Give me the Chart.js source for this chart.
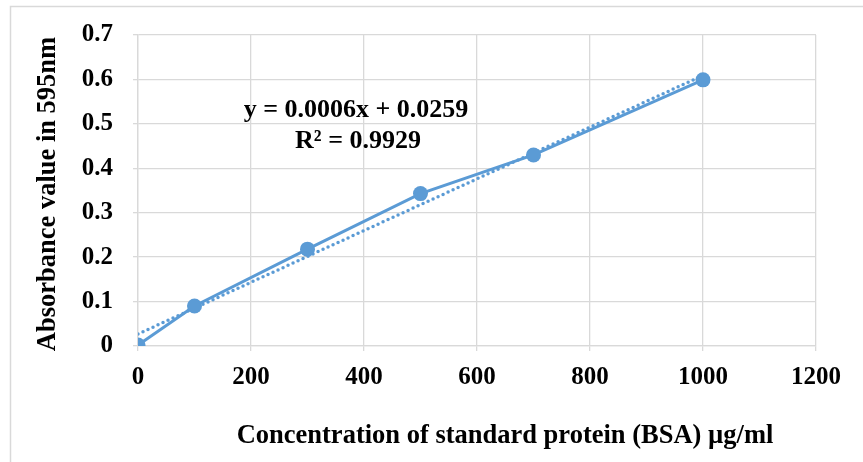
<!DOCTYPE html>
<html>
<head>
<meta charset="utf-8">
<script src="https://cdn.jsdelivr.net/npm/chart.js@4/dist/chart.umd.min.js"></script>
<style>
  body { margin: 0; background: #fff; }
</style>
</head>
<body>
<canvas id="grafico" width="863" height="462"></canvas>
<script>
// Data
const concentracoes = [0, 100, 300, 500, 700, 1000];
const absorbancias = [0.002, 0.09, 0.218, 0.343, 0.43, 0.599];
// dotted trendline end points (as drawn)
const linhaX = [0, 1000];
const linhaY = [0.027, 0.609];
const xTicks = [0, 200, 400, 600, 800, 1000, 1200];
const yTicks = [0, 0.1, 0.2, 0.3, 0.4, 0.5, 0.6, 0.7];
const equacao = ["y = 0.0006x + 0.0259", "R² = 0.9929"];
const tituloX = "Concentration of standard protein (BSA) µg/ml";
const tituloY = "Absorbance value in 595nm";

const azul = "#5b9bd5";
const grade = "#d9d9d9";
const fonte = "'Liberation Serif', 'Times New Roman', serif";

// Fundo, moldura e textos extras
const extras = {
  id: "extras",
  beforeDraw(chart) {
    const ctx = chart.ctx;
    ctx.save();
    ctx.fillStyle = "#fff";
    ctx.fillRect(0, 0, chart.width, chart.height);
    ctx.strokeStyle = grade;
    ctx.lineWidth = 1.5;
    ctx.beginPath();
    ctx.moveTo(10.5, chart.height + 2);
    ctx.lineTo(10.5, 6.5);
    ctx.lineTo(chart.width + 2, 6.5);
    ctx.stroke();
    ctx.restore();
  },
  afterDraw(chart) {
    const ctx = chart.ctx;
    ctx.save();
    ctx.fillStyle = "#000";
    ctx.textAlign = "center";
    ctx.textBaseline = "middle";
    ctx.font = "bold 26px " + fonte;
    ctx.fillText(equacao[0], 356, 110);
    ctx.fillText(equacao[1], 358, 141);
    ctx.font = "bold 26.5px " + fonte;
    ctx.fillText(tituloX, 505, 436);
    ctx.translate(48, 194);
    ctx.rotate(-Math.PI / 2);
    ctx.fillText(tituloY, 0, 0);
    ctx.restore();
  }
};

new Chart(document.getElementById("grafico"), {
  type: "scatter",
  data: {
    datasets: [
      {
        label: "Absorbance",
        data: concentracoes.map((x, i) => ({ x: x, y: absorbancias[i] })),
        showLine: true,
        borderColor: azul,
        backgroundColor: azul,
        borderWidth: 3,
        pointRadius: 7.5,
        pointBorderWidth: 0,
        order: 1
      },
      {
        label: "Linear",
        data: linhaX.map((x, i) => ({ x: x, y: linhaY[i] })),
        showLine: true,
        borderColor: azul,
        borderWidth: 3.5,
        borderDash: [0, 5.5],
        borderCapStyle: "round",
        pointRadius: 0,
        order: 2
      }
    ]
  },
  options: {
    responsive: false,
    animation: false,
    layout: { padding: { left: 0, top: 35, right: 47, bottom: 0 } },
    plugins: {
      legend: { display: false },
      tooltip: { enabled: false }
    },
    scales: {
      x: {
        type: "linear",
        min: 0,
        max: 1200,
        afterBuildTicks: (s) => { s.ticks = xTicks.map(v => ({ value: v })); },
        afterFit: (s) => { s.height = 116; },
        grid: { color: grade, tickLength: 5, lineWidth: 1.3 },
        border: { color: grade, width: 1.3 },
        ticks: {
          color: "#000",
          padding: 12,
          font: { family: fonte, size: 25, weight: "bold" },
          callback: (v) => String(v)
        }
      },
      y: {
        min: 0,
        max: 0.7,
        afterBuildTicks: (s) => { s.ticks = yTicks.map(v => ({ value: v })); },
        afterFit: (s) => { s.width = 138; },
        grid: { color: grade, tickLength: 5, lineWidth: 1.3 },
        border: { color: grade, width: 1.3 },
        ticks: {
          color: "#000",
          padding: 20,
          font: { family: fonte, size: 25, weight: "bold" },
          callback: (v) => (v === 0 ? "0" : v.toFixed(1))
        }
      }
    }
  },
  plugins: [extras]
});
</script>
</body>
</html>
